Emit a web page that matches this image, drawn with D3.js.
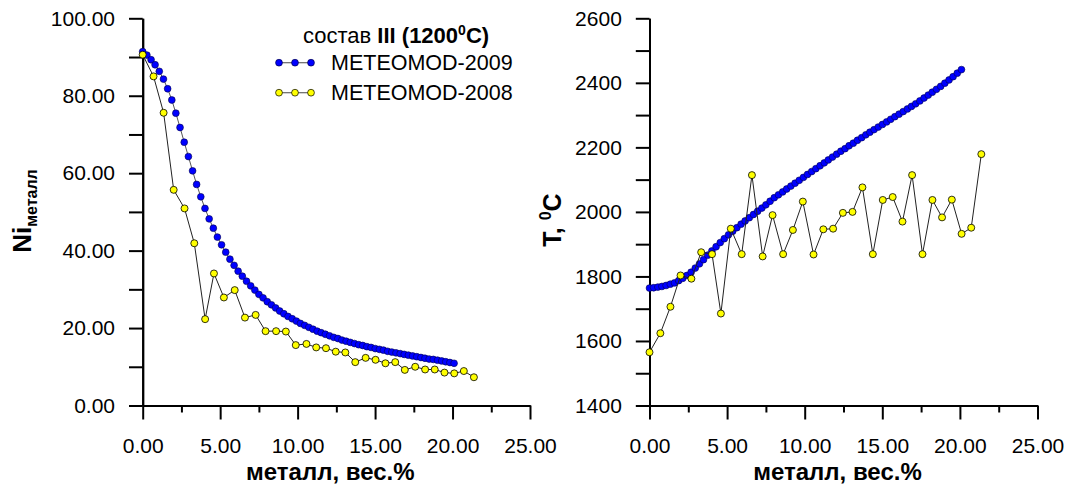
<!DOCTYPE html>
<html>
<head>
<meta charset="utf-8">
<script src="https://cdn.jsdelivr.net/npm/d3@7"></script>
<style>
  body { margin: 0; background: #fff; }
  svg { display: block; font-family: "Liberation Sans", Arial, sans-serif; }
  .axis path, .axis line { stroke: #000; stroke-width: 2; }
  .axis text { font-size: 21px; fill: #000; font-family: "Liberation Sans", Arial, sans-serif; }
</style>
</head>
<body>
<div id="container"></div>
<script>
// METEOMOD-2009 (blue) - x = metal wt.%
var xs09 = [0.00,0.27,0.54,0.80,1.07,1.34,1.61,1.88,2.14,2.41,
  2.68,2.95,3.22,3.48,3.75,4.02,4.29,4.56,4.82,5.09,
  5.36,5.63,5.90,6.16,6.43,6.70,6.97,7.24,7.50,7.77,
  8.04,8.31,8.58,8.84,9.11,9.38,9.65,9.92,10.18,10.45,
  10.72,10.99,11.26,11.52,11.79,12.06,12.33,12.60,12.86,13.13,
  13.40,13.67,13.94,14.20,14.47,14.74,15.01,15.28,15.54,15.81,
  16.08,16.35,16.62,16.88,17.15,17.42,17.69,17.96,18.22,18.49,
  18.76,19.03,19.30,19.56,19.83,20.10];
var ni09 = [91.4,90.5,89.3,88.0,86.3,84.3,81.8,78.9,75.5,71.8,
  68.0,64.3,60.6,57.1,53.9,50.9,48.2,45.8,43.5,41.5,
  39.6,37.8,36.2,34.7,33.4,32.1,30.9,29.8,28.7,27.8,
  26.8,26.0,25.2,24.4,23.7,23.0,22.4,21.8,21.2,20.7,
  20.2,19.7,19.2,18.8,18.4,18.0,17.6,17.3,16.9,16.6,
  16.3,16.0,15.7,15.5,15.2,15.0,14.7,14.5,14.3,14.0,
  13.8,13.6,13.4,13.2,13.0,12.8,12.6,12.4,12.2,12.0,
  11.9,11.7,11.5,11.3,11.1,10.9];
var t09 = [1764,1765,1767,1769,1772,1776,1780,1787,1794,1803,
  1813,1826,1839,1852,1866,1879,1892,1905,1917,1929,
  1940,1951,1962,1972,1982,1992,2002,2012,2022,2033,
  2044,2053,2062,2071,2080,2089,2098,2107,2116,2125,
  2134,2143,2152,2161,2170,2179,2188,2196,2205,2213,
  2222,2230,2239,2247,2255,2263,2271,2279,2287,2295,
  2303,2311,2319,2327,2335,2344,2353,2362,2371,2380,
  2389,2399,2409,2419,2430,2441];

// METEOMOD-2008 (yellow)
var xs08 = [0.00,0.70,1.35,2.00,2.70,3.33,4.03,4.60,5.24,5.94,
  6.60,7.29,7.93,8.61,9.24,9.88,10.57,11.20,11.83,12.46,
  13.08,13.72,14.39,15.03,15.67,16.30,16.92,17.59,18.23,18.85,
  19.48,20.11,20.73,21.38];
var ni08 = [90.6,85.0,75.6,55.7,50.9,41.9,22.3,34.1,27.9,29.8,
  22.7,23.4,19.2,19.2,19.1,15.6,15.9,15.0,14.8,13.9,
  13.7,11.2,12.3,11.8,10.9,11.2,9.2,10.0,9.3,9.3,
  8.5,8.3,8.9,7.3];
var t08 = [1565,1624,1706,1803,1793,1875,1869,1685,1948,1869,
  2114,1862,1990,1869,1944,2032,1868,1946,1948,1997,
  2000,2076,1869,2037,2046,1970,2114,1869,2037,1983,
  2038,1932,1951,2179];

var xMajor = [0,5,10,15,20,25];
var xMinor = [2.5,7.5,12.5,17.5,22.5];
var niMajor = [0,20,40,60,80,100];
var niMinor = [10,30,50,70,90];
var tMajor = [1400,1600,1800,2000,2200,2400,2600];
var tMinor = [1500,1700,1900,2100,2300,2500];

var legendTitle = ["состав ", "III (1200", "0", "C)"];
var seriesNames = ["METEOMOD-2009", "METEOMOD-2008"];

var width = 1073, height = 486;
var plotTop = 18.3, plotBottom = 405.5;

var svg = d3.select("#container").append("svg")
    .attr("width", width)
    .attr("height", height);

function zip(xs, ys) {
    return xs.map(function(x, i) { return {x: x, y: ys[i]}; });
}

function panel(x0, x1, yDomain, major, minor, fmtY, blue, yellow) {
    var x = d3.scaleLinear().domain([0, 25]).range([x0, x1]);
    var y = d3.scaleLinear().domain(yDomain).range([plotBottom, plotTop]);

    // minor ticks first
    svg.append("g").attr("class", "axis")
        .attr("transform", "translate(0," + plotBottom + ")")
        .call(d3.axisBottom(x).tickValues(xMinor).tickSize(7).tickSizeOuter(0).tickFormat(""));
    svg.append("g").attr("class", "axis")
        .attr("transform", "translate(0," + plotBottom + ")")
        .call(d3.axisBottom(x).tickValues(xMajor).tickSize(14).tickSizeOuter(0)
            .tickPadding(19).tickFormat(d3.format(".2f")));

    svg.append("g").attr("class", "axis")
        .attr("transform", "translate(" + x0 + ",0)")
        .call(d3.axisLeft(y).tickValues(minor).tickSize(13.7).tickSizeOuter(0).tickFormat(""));
    svg.append("g").attr("class", "axis")
        .attr("transform", "translate(" + x0 + ",0)")
        .call(d3.axisLeft(y).tickValues(major).tickSize(13.7).tickSizeOuter(0)
            .tickPadding(14).tickFormat(fmtY));

    var line = d3.line()
        .x(function(d) { return x(d.x); })
        .y(function(d) { return y(d.y); });

    // blue series
    svg.append("path").datum(blue)
        .attr("d", line).attr("fill", "none")
        .attr("stroke", "#555").attr("stroke-width", 1);
    svg.append("g").selectAll("circle")
        .data(blue).enter().append("circle")
        .attr("r", 3.4)
        .attr("cx", function(d) { return x(d.x); })
        .attr("cy", function(d) { return y(d.y); })
        .attr("fill", "#0000ff").attr("stroke", "#00004a").attr("stroke-width", 0.6);

    // yellow series
    svg.append("path").datum(yellow)
        .attr("d", line).attr("fill", "none")
        .attr("stroke", "#222").attr("stroke-width", 1);
    svg.append("g").selectAll("circle")
        .data(yellow).enter().append("circle")
        .attr("r", 3.5)
        .attr("cx", function(d) { return x(d.x); })
        .attr("cy", function(d) { return y(d.y); })
        .attr("fill", "#ffff00").attr("stroke", "#000").attr("stroke-width", 0.8);

    // x title
    svg.append("text")
        .attr("x", (x0 + x1) / 2 - 6).attr("y", 480)
        .attr("text-anchor", "middle")
        .attr("font-size", "24px").attr("font-weight", "bold")
        .text("металл, вес.%");
    return {x: x, y: y};
}

panel(142.7, 530, [0, 100], niMajor, niMinor, d3.format(".2f"),
    zip(xs09, ni09), zip(xs08, ni08));
panel(649.5, 1037.5, [1400, 2600], tMajor, tMinor, d3.format("d"),
    zip(xs09, t09), zip(xs08, t08));

// y titles
var yt1 = svg.append("text")
    .attr("transform", "translate(31,211) rotate(-90)")
    .attr("text-anchor", "middle").attr("font-weight", "bold");
yt1.append("tspan").attr("font-size", "26px").text("Ni");
yt1.append("tspan").attr("font-size", "16px").attr("dy", 6).text("металл");

var yt2 = svg.append("text")
    .attr("transform", "translate(561,220) rotate(-90)")
    .attr("text-anchor", "middle").attr("font-weight", "bold").attr("font-size", "25px");
yt2.append("tspan").text("T, ");
yt2.append("tspan").attr("font-size", "16px").attr("dy", -10).text("0");
yt2.append("tspan").attr("dy", 10).text("C");

// legend
var lt = svg.append("text").attr("x", 303).attr("y", 43).attr("font-size", "22px");
lt.append("tspan").text(legendTitle[0]);
lt.append("tspan").attr("font-weight", "bold").text(legendTitle[1]);
lt.append("tspan").attr("font-weight", "bold").attr("font-size", "14px").attr("dy", -8).text(legendTitle[2]);
lt.append("tspan").attr("font-weight", "bold").attr("dy", 8).text(legendTitle[3]);

var legendColors = [["#0000ff", "#00004a"], ["#ffff00", "#000"]];
seriesNames.forEach(function(name, i) {
    var ly = 62.7 + i * 30;
    var g = svg.append("g");
    g.append("line").attr("x1", 279).attr("x2", 311).attr("y1", ly).attr("y2", ly)
        .attr("stroke", "#666").attr("stroke-width", 1.2);
    g.selectAll("circle").data([279, 295, 311]).enter().append("circle")
        .attr("cx", function(d) { return d; }).attr("cy", ly).attr("r", 3.4)
        .attr("fill", legendColors[i][0]).attr("stroke", legendColors[i][1]).attr("stroke-width", 0.7);
    g.append("text").attr("x", 331).attr("y", ly + 7.5)
        .attr("font-size", "21.5px").text(name);
});
</script>
</body>
</html>
